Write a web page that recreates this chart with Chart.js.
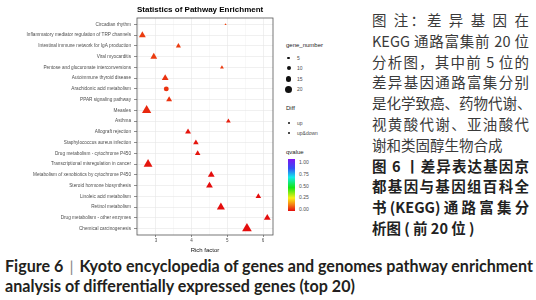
<!DOCTYPE html>
<html>
<head>
<meta charset="utf-8">
<script src="https://cdn.jsdelivr.net/npm/chart.js"></script>
<style>
  body { margin: 0; width: 536px; height: 300px; background: #fff; position: relative; overflow: hidden; font-family: "Liberation Sans", Arial, sans-serif; }
  #wrap { position: absolute; left: 0; top: 0; width: 280px; height: 255px; }
  .lg { position: absolute; color: #4d4d4d; font-size: 5px; white-space: nowrap; line-height: 6px; }
  .lgt { position: absolute; color: #222; font-size: 6px; white-space: nowrap; line-height: 7px; }
  .dot { position: absolute; background: #111; border-radius: 50%; }
  #bar { position: absolute; left: 288px; top: 159px; width: 7px; height: 52px; }
  .cn { position: absolute; left: 372px; width: 157px; height: 20px; line-height: 20px; font-family: "Noto Sans CJK SC", sans-serif; font-size: 14.5px; color: #3a3a3a; white-space: nowrap; }
  .j { text-align: justify; text-align-last: justify; }
  .b { font-weight: bold; color: #222; }
  .cap { position: absolute; left: 5px; font-family: Lato, "Open Sans", sans-serif; font-weight: bold; font-size: 16.1px; color: #231f20; white-space: nowrap; line-height: 19px; }
  .cap .sep { font-weight: normal; color: #888; padding: 0 6px; }
</style>
</head>
<body>
<div id="wrap"><canvas id="pathChart" width="280" height="255"></canvas></div>
<div id="legend"></div>
<div id="notes"></div>
<div class="cap" style="top:256px">Figure 6<span class="sep">|</span>Kyoto encyclopedia of genes and genomes pathway enrichment</div>
<div class="cap" style="top:276px">analysis of differentially expressed genes (top 20)</div>
<script>
  // KEGG top 20 pathways, top to bottom
  const pathways = [
    "Circadian rhythm",
    "Inflammatory mediator regulation of TRP channels",
    "Intestinal immune network for IgA production",
    "Viral myocarditis",
    "Pentose and glucuronate interconversions",
    "Autoimmune thyroid disease",
    "Arachidonic acid metabolism",
    "PPAR signaling pathway",
    "Measles",
    "Asthma",
    "Allograft rejection",
    "Staphylococcus aureus infection",
    "Drug metabolism - cytochrome P450",
    "Transcriptional misregulation in cancer",
    "Metabolism of xenobiotics by cytochrome P450",
    "Steroid hormone biosynthesis",
    "Linoleic acid metabolism",
    "Retinol metabolism",
    "Drug metabolism - other enzymes",
    "Chemical carcinogenesis"
  ];
  const richFactor = [4.95, 2.62, 3.63, 2.94, 4.85, 3.26, 3.29, 3.37, 2.74, 5.03,
                      3.90, 4.12, 4.17, 2.78, 4.55, 4.50, 5.87, 4.82, 6.12, 5.55];
  const geneNumber = [2, 13, 9, 13, 6, 13, 13, 11, 19, 8,
                      11, 10, 10, 18, 13, 13, 10, 16, 13, 20];
  const qvalue = [0.06, 0.05, 0.05, 0.05, 0.05, 0.04, 0.04, 0.04, 0.03, 0.02,
                  0.01, 0.01, 0.01, 0.01, 0.0, 0.0, 0.0, 0.0, 0.0, 0.0];
  const diff = ["up&down", "up&down", "up&down", "up&down", "up&down", "up&down", "up", "up&down", "up&down", "up&down",
                "up&down", "up&down", "up&down", "up&down", "up&down", "up&down", "up&down", "up&down", "up&down", "up&down"];
  const xTicks = [3, 4, 5, 6];
  const sizeLegend = [5, 10, 15, 20];
  const diffLegend = ["up", "up&down"];
  const qTicks = ["1.00", "0.75", "0.50", "0.25", "0.00"];

  const qStops = [[0, [228, 12, 12]], [0.12, [245, 125, 20]], [0.25, [250, 240, 20]], [0.45, [20, 230, 20]],
                  [0.65, [20, 235, 235]], [0.82, [50, 80, 245]], [1, [128, 20, 240]]];

  function qColor(q) {
    for (let i = 1; i < qStops.length; i++) {
      if (q <= qStops[i][0]) {
        const [a, ca] = qStops[i - 1], [b, cb] = qStops[i];
        const t = (q - a) / (b - a);
        const c = ca.map((v, k) => Math.round(v + (cb[k] - v) * t));
        return `rgb(${c[0]},${c[1]},${c[2]})`;
      }
    }
    return "rgb(128,20,240)";
  }
  const circleR = g => 0.5 + 0.15 * g;

  // panel border like theme_bw
  const panelBorder = {
    id: "panelBorder",
    afterDraw(chart) {
      const { ctx, chartArea: a } = chart;
      ctx.save();
      ctx.strokeStyle = "#555";
      ctx.lineWidth = 0.8;
      ctx.strokeRect(a.left, a.top, a.right - a.left, a.bottom - a.top);
      ctx.restore();
    }
  };

  new Chart(document.getElementById("pathChart"), {
    type: "scatter",
    data: {
      datasets: [{
        label: "pathways",
        data: pathways.map((p, i) => ({ x: richFactor[i], y: i })),
        pointStyle: c => diff[c.dataIndex] === "up" ? "circle" : "triangle",
        pointRadius: c => {
          const r = circleR(geneNumber[c.dataIndex]);
          return diff[c.dataIndex] === "up" ? r : r * 1.6;
        },
        backgroundColor: c => qColor(qvalue[c.dataIndex]),
        borderColor: c => qColor(qvalue[c.dataIndex]),
        borderWidth: 0
      }]
    },
    options: {
      responsive: false,
      animation: false,
      layout: { padding: { top: 0, right: 7, bottom: 0, left: 0 } },
      plugins: {
        legend: { display: false },
        tooltip: { enabled: false },
        title: {
          display: true,
          text: "Statistics of Pathway Enrichment",
          align: "start",
          fullSize: false,
          color: "#000",
          font: { size: 8, weight: "bold", family: "Liberation Sans" },
          padding: { top: 5, bottom: 3.4 }
        }
      },
      scales: {
        x: {
          type: "linear",
          min: 2.47,
          max: 6.28,
          afterBuildTicks: s => { s.ticks = xTicks.flatMap(v => [v - 0.5, v]).map(v => ({ value: v })); },
          afterFit: s => { s.height = 20; },
          border: { display: false },
          grid: {
            color: c => Number.isInteger(c.tick.value) ? "#e6e6e6" : "#f3f3f3",
            tickColor: c => Number.isInteger(c.tick.value) ? "#444" : "rgba(0,0,0,0)",
            tickLength: 2,
            lineWidth: 0.6
          },
          ticks: {
            autoSkip: false,
            maxRotation: 0,
            padding: 1,
            color: "#4d4d4d",
            font: { size: 4.5, family: "Liberation Sans" },
            callback: v => xTicks.includes(v) ? String(v) : ""
          },
          title: {
            display: true,
            text: "Rich factor",
            color: "#111",
            font: { size: 6, family: "Liberation Sans" },
            padding: { top: 0, bottom: 1.5 }
          }
        },
        y: {
          type: "linear",
          reverse: true,
          min: -0.6,
          max: 19.6,
          afterBuildTicks: s => { s.ticks = pathways.map((p, i) => ({ value: i })); },
          afterFit: s => { s.width = 137; },
          border: { display: false },
          grid: { color: "#e6e6e6", tickColor: "#444", tickLength: 3, lineWidth: 0.6 },
          ticks: {
            autoSkip: false,
            padding: 3,
            color: "#4d4d4d",
            font: { size: 4.7, family: "Liberation Sans" },
            callback: v => pathways[v]
          }
        }
      }
    },
    plugins: [panelBorder]
  });

  // legends (gene_number, Diff, qvalue)
  const lg = document.getElementById("legend");
  let html = '<div class="lgt" style="left:286px;top:42px">gene_number</div>';
  const sizeY = [58, 68, 79, 89];
  sizeLegend.forEach((g, i) => {
    const r = circleR(g);
    html += `<div class="dot" style="left:${288.5 - r}px;top:${sizeY[i] - r}px;width:${2 * r}px;height:${2 * r}px"></div>`;
    html += `<div class="lg" style="left:297px;top:${sizeY[i] - 3}px">${g}</div>`;
  });
  html += '<div class="lgt" style="left:286px;top:105px">Diff</div>';
  diffLegend.forEach((d, i) => {
    const y = 123 + i * 10;
    html += `<div class="dot" style="left:287.5px;top:${y - 1}px;width:2px;height:2px"></div>`;
    html += `<div class="lg" style="left:297px;top:${y - 3}px">${d}</div>`;
  });
  html += '<div class="lgt" style="left:286px;top:149px">qvalue</div>';
  const grad = qStops.slice().reverse().map(s => `rgb(${s[1].join(",")}) ${(1 - s[0]) * 100}%`).join(",");
  html += `<div id="bar" style="background:linear-gradient(to bottom,${grad})"></div>`;
  qTicks.forEach((t, i) => {
    const y = 162 + i * 11.8;
    html += `<div class="lg" style="left:299px;top:${y - 3}px">${t}</div>`;
  });
  lg.innerHTML = html;

  // Chinese figure note
  const noteLines = [
    ["图 注：差 异 基 因 在", "j"],
    ["KEGG 通路富集前 20 位", "j"],
    ["分析图，其中前 5 位的", "j"],
    ["差异基因通路富集分别", "j"],
    ["是化学致癌、药物代谢、", "j"],
    ["视黄酸代谢、亚油酸代", "j"],
    ["谢和类固醇生物合成", ""],
    ["图 6 丨差异表达基因京", "j b"],
    ["都基因与基因组百科全", "j b"],
    ["书 (KEGG) 通 路 富 集 分", "j b"],
    ["析图 ( 前 20 位 )", "b"]
  ];
  document.getElementById("notes").innerHTML = noteLines
    .map((l, i) => `<div class="cn ${l[1]}" style="top:${10 + i * 20.8}px">${l[0]}</div>`).join("");
</script>
</body>
</html>
